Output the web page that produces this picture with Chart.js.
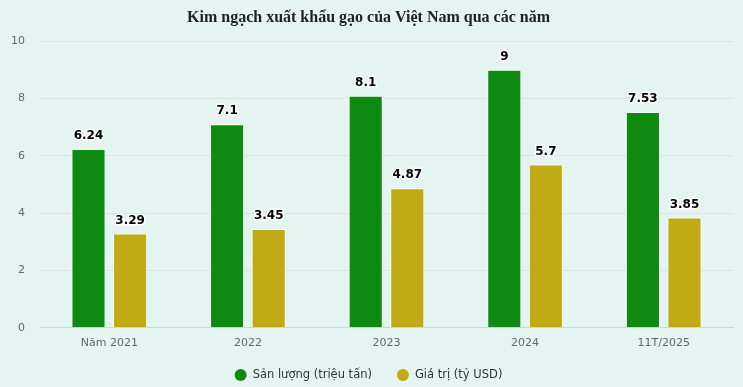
<!DOCTYPE html>
<html>
<head>
<meta charset="utf-8">
<script src="https://cdn.jsdelivr.net/npm/chart.js@4"></script>
<style>
  html, body { margin: 0; padding: 0; background: #e4f5f1; }
  #wrap { width: 743px; height: 387px; position: relative; }
</style>
</head>
<body>
<div id="wrap"><canvas id="riceChart"></canvas></div>
<script>
// ── Data ───────────────────────────────────────────────────
const categories = ['Năm 2021', '2022', '2023', '2024', '11T/2025'];
const sanLuong   = [6.24, 7.1, 8.1, 9, 7.53];
const giaTri     = [3.29, 3.45, 4.87, 5.7, 3.85];
const yTicks     = [0, 2, 4, 6, 8, 10];

const FONT = '"DejaVu Sans", Verdana, sans-serif';

// ── Value labels above bars ────────────────────────────────
const barLabels = {
    id: 'barLabels',
    afterDatasetsDraw(chart) {
        const ctx = chart.ctx;
        ctx.save();
        ctx.font = 'bold 12px ' + FONT;
        ctx.textAlign = 'center';
        ctx.textBaseline = 'middle';
        ctx.lineJoin = 'round';
        chart.data.datasets.forEach((ds, di) => {
            chart.getDatasetMeta(di).data.forEach((bar, i) => {
                const txt = String(ds.data[i]);
                ctx.lineWidth = 3;
                ctx.strokeStyle = '#ffffff';
                ctx.strokeText(txt, bar.x, bar.y - 13);
                ctx.fillStyle = '#000000';
                ctx.fillText(txt, bar.x, bar.y - 13);
            });
        });
        ctx.restore();
    }
};

// ── Bottom legend (circles) ────────────────────────────────
const bottomLegend = {
    id: 'bottomLegend',
    afterDraw(chart) {
        const ctx = chart.ctx;
        const items = chart.data.datasets.map(ds => ({ text: ds.label, color: ds.backgroundColor }));
        const r = 6, textGap = 12, itemGap = 31, y = 375;
        ctx.save();
        ctx.font = '11.5px ' + FONT;
        ctx.textBaseline = 'middle';
        const widths = items.map(it => ctx.measureText(it.text).width);
        const total = items.reduce((s, it, i) => s + r + textGap + widths[i], 0) + itemGap * (items.length - 1);
        let x = chart.width / 2 - total / 2 + r;
        items.forEach((it, i) => {
            ctx.beginPath();
            ctx.arc(x, y, r, 0, Math.PI * 2);
            ctx.fillStyle = it.color;
            ctx.fill();
            ctx.fillStyle = '#333333';
            ctx.fillText(it.text, x + textGap, y);
            x += textGap + widths[i] + itemGap;
        });
        ctx.restore();
    }
};

new Chart(document.getElementById('riceChart'), {
    type: 'bar',
    data: {
        labels: categories,
        datasets: [
            {
                label: 'Sản lượng (triệu tấn)',
                data: sanLuong,
                backgroundColor: '#0e8a10',
                borderColor: '#ffffff',
                borderWidth: 1,
                categoryPercentage: 0.6,
                barPercentage: 0.82
            },
            {
                label: 'Giá trị (tỷ USD)',
                data: giaTri,
                backgroundColor: '#c0aa15',
                borderColor: '#ffffff',
                borderWidth: 1,
                categoryPercentage: 0.6,
                barPercentage: 0.82
            }
        ]
    },
    options: {
        responsive: true, maintainAspectRatio: false,
        animation: false,
        layout: { padding: { left: 4, right: 10, top: 0, bottom: 28 } },
        plugins: {
            title: {
                display: true,
                text: 'Kim ngạch xuất khẩu gạo của Việt Nam qua các năm',
                color: '#222222',
                font: { family: '"Liberation Serif", "Times New Roman", serif', size: 16, weight: 'bold' },
                padding: { top: 8, bottom: 14 }
            },
            legend: { display: false },
            tooltip: { enabled: false }
        },
        scales: {
            x: {
                grid: { display: false, drawTicks: false },
                border: { color: '#ccd6eb' },
                ticks: { color: '#666666', padding: 9, font: { family: FONT, size: 11 } }
            },
            y: {
                min: yTicks[0], max: yTicks[yTicks.length - 1],
                afterBuildTicks: axis => { axis.ticks = yTicks.map(v => ({ value: v })); },
                afterFit: axis => { axis.width = 36; },
                grid: { color: '#e0e0e0', drawTicks: false },
                border: { display: false },
                ticks: { color: '#666666', padding: 15, font: { family: FONT, size: 11 } }
            }
        }
    },
    plugins: [barLabels, bottomLegend]
});
</script>
</body>
</html>
